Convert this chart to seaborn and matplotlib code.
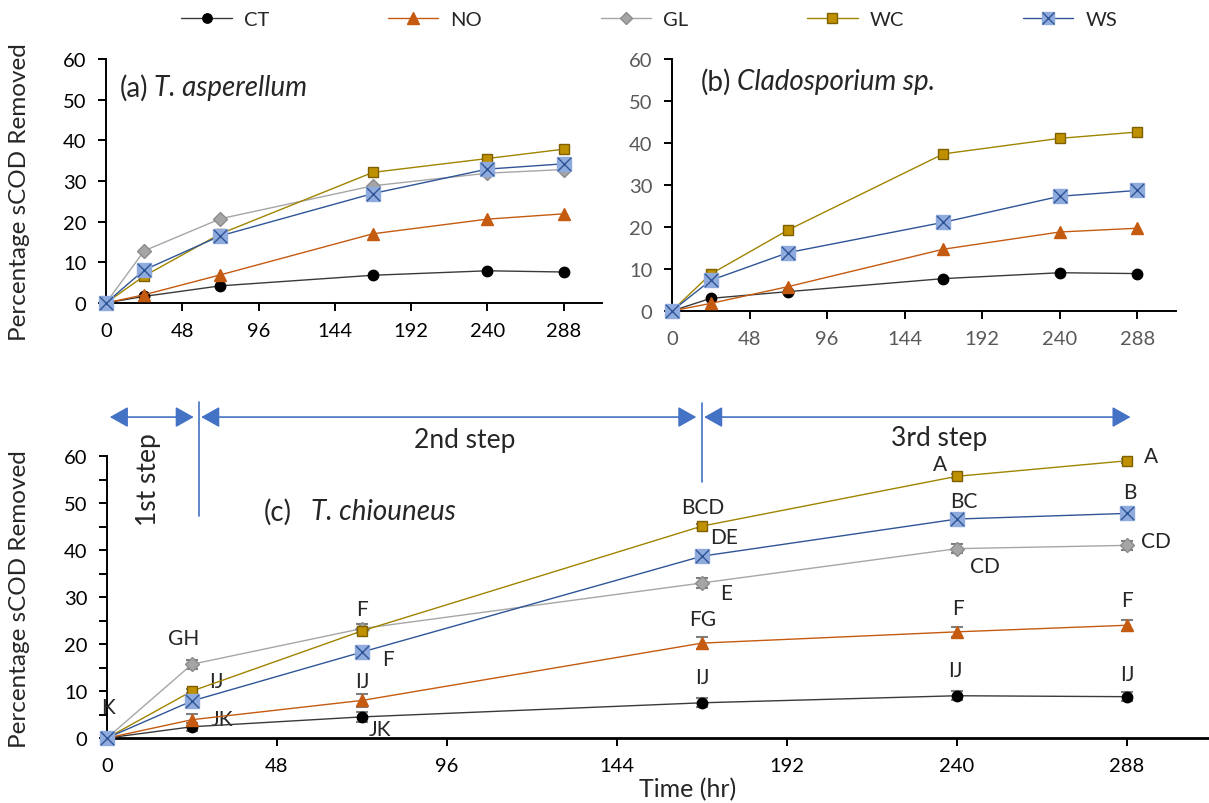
import numpy as np
import pandas as pd
import matplotlib
matplotlib.use("Agg")
import matplotlib.pyplot as plt
import seaborn as sns
from matplotlib.lines import Line2D
from matplotlib.legend_handler import HandlerTuple
from matplotlib.ticker import MultipleLocator

# datos
time_hr = [0, 24, 72, 168, 240, 288]
series = ["CT", "NO", "GL", "WC", "WS"]

# (a) T. asperellum
a_ct = [0, 1.6, 4.2, 6.8, 7.9, 7.6]
a_no = [0, 2.0, 6.9, 17.0, 20.6, 21.9]
a_gl = [0, 12.8, 20.7, 28.8, 31.9, 32.8]
a_wc = [0, 6.6, 17.0, 32.1, 35.5, 37.8]
a_ws = [0, 8.1, 16.5, 26.9, 32.9, 34.2]

# (b) Cladosporium sp. (sin GL)
b_ct = [0, 3.0, 4.6, 7.7, 9.1, 8.9]
b_no = [0, 1.8, 5.8, 14.7, 18.8, 19.7]
b_wc = [0, 8.8, 19.3, 37.4, 41.1, 42.6]
b_ws = [0, 7.3, 13.9, 21.1, 27.3, 28.7]

# (c) T. chiouneus
c_ct = [0, 2.4, 4.5, 7.5, 9.0, 8.8]
c_no = [0, 3.9, 8.0, 20.2, 22.6, 24.0]
c_gl = [0, 15.7, 23.3, 33.0, 40.3, 41.0]
c_wc = [0, 10.0, 22.8, 45.1, 55.7, 59.0]
c_ws = [0, 7.9, 18.3, 38.7, 46.6, 47.8]

c_ct_err = [0, 0.8, 1.0, 1.0, 1.0, 0.9]
c_no_err = [0, 1.3, 1.3, 1.2, 1.1, 1.2]
c_gl_err = [0, 1.0, 1.0, 1.1, 1.0, 0.9]
c_wc_err = [0, 0.4, 0.5, 0.4, 0.4, 0.4]
c_ws_err = [0, 0.3, 0.3, 0.3, 0.3, 0.3]

# letras de significancia en (c)
c_letters = ["K", "GH", "IJ", "JK", "F", "F", "IJ", "JK",
             "BCD", "DE", "E", "FG", "IJ",
             "A", "BC", "CD", "F", "IJ",
             "A", "B", "CD", "F", "IJ"]
c_letter_series = ["WS", "GL", "WC", "CT", "WC", "WS", "NO", "CT",
                   "WC", "WS", "GL", "NO", "CT",
                   "WC", "WS", "GL", "NO", "CT",
                   "WC", "WS", "GL", "NO", "CT"]
c_letter_time = [0, 24, 24, 24, 72, 72, 72, 72,
                 168, 168, 168, 168, 168,
                 240, 240, 240, 240, 240,
                 288, 288, 288, 288, 288]
# desplazamiento de cada letra (pixeles)
c_letter_offsets = [(1, 31), (-8, 26), (24, 10), (30, 8), (0, 22), (26, -7), (0, 19), (18, -12),
                    (1, 19), (22, 19), (24, -10), (1, 24), (0, 26),
                    (-17, 12), (7, 18), (28, -17), (1, 24), (-2, 26),
                    (24, 5), (3, 21), (29, 4), (0, 25), (0, 23)]

# estilos por serie
estilos = {
    "CT": dict(line="#3a3a3a", marker="o", ms=7.5, face="black", edge="black"),
    "NO": dict(line="#C55A11", marker="^", ms=9, face="#C55A11", edge="#C55A11"),
    "GL": dict(line="#A6A6A6", marker="D", ms=7, face="#A5A5A5", edge="#8C8C8C"),
    "WC": dict(line="#A08400", marker="s", ms=7.5, face="#BF9000", edge="#7F6000"),
    "WS": dict(line="#2F5597", marker="s", ms=10, face="#8FAADC", edge="#8FAADC"),
}

sns.set_theme(style="ticks")
plt.rcParams['font.family'] = ['Lato', 'DejaVu Sans']
plt.rcParams['font.size'] = 14

fig = plt.figure(figsize=(12.09, 8.04), dpi=100)
ax_a = fig.add_axes([0.0877, 0.622, 0.410, 0.3035])
ax_b = fig.add_axes([0.5558, 0.612, 0.4169, 0.3134])
ax_c = fig.add_axes([0.0885, 0.0808, 0.914, 0.3507])


def dibujar(ax, datos, errores=None):
    for i, nombre in enumerate(series):
        if nombre not in datos:
            continue
        st = estilos[nombre]
        y = datos[nombre]
        if errores is not None:
            ax.errorbar(time_hr, y, yerr=errores[nombre], fmt='none', ecolor='#7F7F7F',
                        elinewidth=1.5, capsize=4, capthick=1.5, zorder=3 + i, clip_on=False)
        sns.lineplot(x=time_hr, y=y, ax=ax, color=st["line"], linewidth=1.0,
                     marker=st["marker"], markersize=st["ms"], markerfacecolor=st["face"],
                     markeredgecolor=st["edge"], markeredgewidth=1.0, errorbar=None,
                     legend=False, clip_on=False, zorder=4 + i)
        if nombre == "WS":
            sns.scatterplot(x=time_hr, y=y, ax=ax, marker="x", s=90, color="#2F5597",
                            linewidth=1.0, legend=False, clip_on=False, zorder=5 + i)
    ax.set_xlim(0, 312)
    ax.set_ylim(0, 60)
    ax.set_xticks(np.arange(0, 289, 48))
    ax.set_yticks(np.arange(0, 61, 10))
    ax.set_xlabel("")
    ax.set_ylabel("")
    sns.despine(ax=ax)
    for s in ["left", "bottom"]:
        ax.spines[s].set_color("black")
        ax.spines[s].set_linewidth(1.4)
    ax.tick_params(direction="out", length=6, width=1.4, labelsize=14.5, colors="black", pad=8)


dibujar(ax_a, {"CT": a_ct, "NO": a_no, "GL": a_gl, "WC": a_wc, "WS": a_ws})
dibujar(ax_b, {"CT": b_ct, "NO": b_no, "WC": b_wc, "WS": b_ws})
datos_c = {"CT": c_ct, "NO": c_no, "GL": c_gl, "WC": c_wc, "WS": c_ws}
errores_c = {"CT": c_ct_err, "NO": c_no_err, "GL": c_gl_err, "WC": c_wc_err, "WS": c_ws_err}
dibujar(ax_c, datos_c, errores_c)

# ejes (b) en gris
ax_b.tick_params(labelcolor="#595959")
# ticks menores en (c)
ax_c.yaxis.set_minor_locator(MultipleLocator(5))
ax_c.tick_params(axis="y", which="minor", direction="out", length=6, width=1.4, colors="black")
ax_c.spines["bottom"].set_linewidth(2)

# etiquetas de los ejes
ax_a.set_ylabel("Percentage sCOD Removed", fontsize=17.5)
ax_a.yaxis.set_label_coords(-0.153, 0.46)
ax_c.set_ylabel("Percentage sCOD Removed", fontsize=17.5)
ax_c.yaxis.set_label_coords(-0.0697, 0.496)
fig.text(0.569, 0.0174, "Time (hr)", fontsize=18, ha="center", va="center")

# titulos dentro de los paneles
t = ax_a.text(0.028, 0.885, "(a)", transform=ax_a.transAxes, fontsize=20, va="center")
ax_a.annotate("T. asperellum", xy=(1, 0.5), xycoords=t, xytext=(4, 0), textcoords="offset points",
              fontsize=20, style="italic", va="center")
t = ax_b.text(0.058, 0.913, "(b)", transform=ax_b.transAxes, fontsize=20, va="center")
ax_b.annotate("Cladosporium sp.", xy=(1, 0.5), xycoords=t, xytext=(4, 0), textcoords="offset points",
              fontsize=20, style="italic", va="center")
t = ax_c.text(44.3, 48.3, "(c)", fontsize=20, va="center")
ax_c.annotate("T. chiouneus", xy=(1, 0.5), xycoords=t, xytext=(14, 0), textcoords="offset points",
              fontsize=20, style="italic", va="center")

# letras
for txt, ser, tt, (dx, dy) in zip(c_letters, c_letter_series, c_letter_time, c_letter_offsets):
    yv = datos_c[ser][time_hr.index(tt)]
    ax_c.annotate(txt, xy=(tt, yv), xytext=(dx, dy), textcoords="offset pixels",
                  ha="center", va="center", fontsize=15, annotation_clip=False)

# flechas de las etapas
azul = "#4472C4"
flecha = dict(arrowstyle="<|-|>,head_length=0.8,head_width=0.45", color=azul, lw=1.2,
              mutation_scale=14, shrinkA=0, shrinkB=0)
y_fl = 68.3
for x0, x1 in [(0.8, 24.5), (26.6, 166.4), (168.6, 289)]:
    ax_c.annotate("", xy=(x1, y_fl), xytext=(x0, y_fl), arrowprops=flecha, annotation_clip=False)
ax_c.plot([26, 26], [47.2, 71.5], color=azul, lw=1.2, clip_on=False)
ax_c.plot([168, 168], [54.5, 71.2], color=azul, lw=1.2, clip_on=False)
ax_c.text(11.6, 55.1, "1st step", rotation=90, ha="center", va="center", fontsize=19)
ax_c.text(101, 63.6, "2nd step", ha="center", va="center", fontsize=19)
ax_c.text(235, 64, "3rd step", ha="center", va="center", fontsize=19)

# leyenda
handles = []
for nombre in series:
    st = estilos[nombre]
    h = Line2D([], [], color=st["line"], lw=1.0, marker=st["marker"], markersize=st["ms"] * 0.9,
               markerfacecolor=st["face"], markeredgecolor=st["edge"])
    if nombre == "WS":
        hx = Line2D([], [], color="#2F5597", lw=0, marker="x", markersize=8.5, markeredgewidth=1.0)
        h = (h, hx)
    handles.append(h)
fig.legend(handles, series, loc="center", bbox_to_anchor=(0.537, 0.975), ncol=5, frameon=False,
           fontsize=14.5, handlelength=2.5, handletextpad=0.6, columnspacing=5.9,
           handler_map={tuple: HandlerTuple(ndivide=1, pad=0)})

fig.savefig("out.png", dpi=100)
